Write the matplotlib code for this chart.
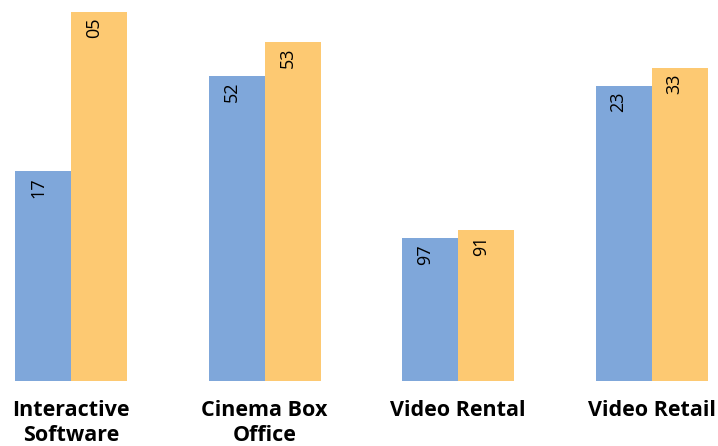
import numpy as np
import matplotlib
matplotlib.use("Agg")
import matplotlib.pyplot as plt

categories = ["Interactive\nSoftware", "Cinema Box\nOffice", "Video Rental", "Video Retail"]
# bar heights (pixel scale, baseline = 0)
blue_values = [210, 305, 143, 295]
orange_values = [369, 339, 151, 313]
# the printed labels on the bars
blue_labels = ["17", "52", "97", "23"]
orange_labels = ["05", "53", "91", "33"]

blue = "#7FA7DA"
orange = "#FDC972"

fig = plt.figure(figsize=(7.18, 4.46), dpi=100)
ax = fig.add_axes([0, 1 - 381 / 446, 1, 381 / 446])

x = np.arange(len(categories))
w = 56 / 193.5
b1 = ax.bar(x - w / 2, blue_values, w, color=blue, linewidth=0)
b2 = ax.bar(x + w / 2, orange_values, w, color=orange, linewidth=0)

for bars, labels in [(b1, blue_labels), (b2, orange_labels)]:
    for rect, lab in zip(bars, labels):
        ax.annotate(lab, (rect.get_x() + rect.get_width() / 2, rect.get_height()),
                    xytext=(-5, -6), textcoords="offset pixels",
                    rotation=90, ha="center", va="top",
                    fontsize=13, fontfamily="Open Sans", color="black")

ax.set_xlim((0 - 71) / 193.5, (718 - 71) / 193.5)
ax.set_ylim(0, 381)
ax.set_xticks(x)
ax.set_xticklabels(categories, fontsize=15.5, fontweight="bold",
                   fontfamily="Open Sans", linespacing=1.22)
ax.tick_params(axis="x", length=0, pad=14)
ax.set_yticks([])
for s in ax.spines.values():
    s.set_visible(False)

fig.savefig("out.png", dpi=100)
